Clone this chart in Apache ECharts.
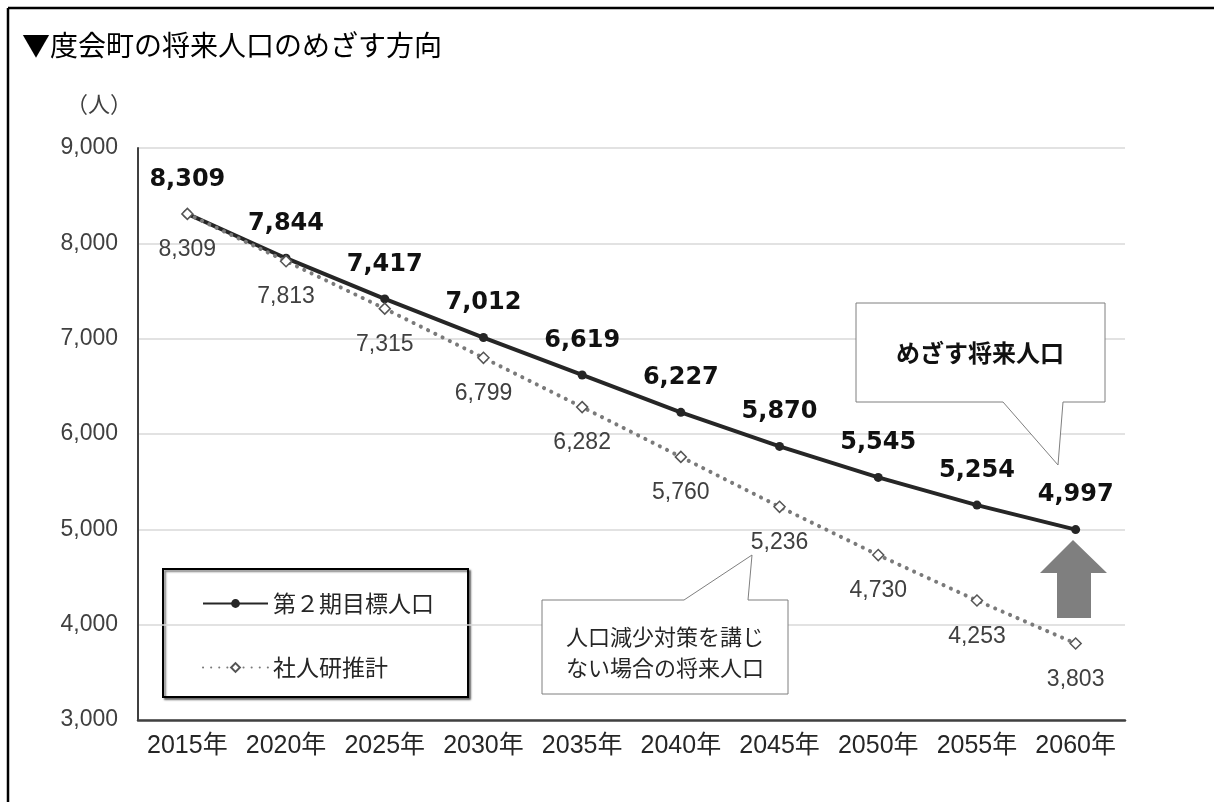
<!DOCTYPE html>
<html>
<head>
<meta charset="utf-8">
<script src="https://cdn.jsdelivr.net/npm/echarts@6/dist/echarts.min.js"></script>
<style>
  html, body { margin: 0; padding: 0; background: #fff; }
  #chart { width: 1214px; height: 802px; }
</style>
</head>
<body>
<div id="chart"></div>
<script>
// データ
var years = ['2015年', '2020年', '2025年', '2030年', '2035年', '2040年', '2045年', '2050年', '2055年', '2060年'];
var targetPop = [8309, 7844, 7417, 7012, 6619, 6227, 5870, 5545, 5254, 4997];   // 第２期目標人口
var ipssPop = [8309, 7813, 7315, 6799, 6282, 5760, 5236, 4730, 4253, 3803];     // 社人研推計
var yMin = 3000, yMax = 9000, yStep = 1000;

var jp = '"Noto Sans CJK JP", sans-serif';
var num = '"Liberation Sans", "Noto Sans CJK JP", sans-serif';
function comma(v) { return Number(v).toLocaleString('en-US'); }

var myChart = echarts.init(document.getElementById('chart'));

var option = {
  backgroundColor: '#fff',
  animation: false,
  grid: { left: 138, right: 89, top: 148, bottom: 82 },
  legend: {
    left: 202, top: 592,
    orient: 'vertical',
    padding: 0,
    itemWidth: 65, itemHeight: 11, itemGap: 41,
    textStyle: { fontFamily: jp, fontSize: 23, color: '#262626' },
    data: ['第２期目標人口', '社人研推計']
  },
  xAxis: {
    type: 'category',
    data: years,
    boundaryGap: true,
    axisLine: { lineStyle: { color: '#404040', width: 2.5 } },
    axisTick: { show: false },
    axisLabel: { interval: 0, fontFamily: num, fontSize: 25, color: '#262626', margin: 14 }
  },
  yAxis: {
    type: 'value',
    min: yMin, max: yMax, interval: yStep,
    axisLine: { show: true, lineStyle: { color: '#404040', width: 2 } },
    axisTick: { show: false },
    splitLine: { lineStyle: { color: '#d9d9d9', width: 1.5 } },
    axisLabel: { fontFamily: num, fontSize: 23, color: '#404040', margin: 20, formatter: comma }
  },
  series: [
    {
      name: '第２期目標人口',
      type: 'line',
      data: targetPop,
      z: 2,
      symbol: 'circle', symbolSize: 9,
      itemStyle: { color: '#262626' },
      lineStyle: { color: '#262626', width: 4 },
      label: {
        show: true, position: 'top', distance: 18,
        fontFamily: '"DejaVu Sans", sans-serif', fontWeight: 'bold', fontSize: 24, color: '#111',
        formatter: function (p) { return comma(p.value); }
      }
    },
    {
      name: '社人研推計',
      type: 'line',
      data: ipssPop,
      z: 3,
      symbol: 'diamond', symbolSize: 11,
      itemStyle: { color: '#fff', borderColor: '#555', borderWidth: 1.5 },
      lineStyle: { color: '#7a7a7a', width: 4, type: [0.1, 8], cap: 'round' },
      label: {
        show: true, position: 'bottom', distance: 18,
        fontFamily: num, fontSize: 23, color: '#404040',
        formatter: function (p) { return comma(p.value); }
      }
    }
  ],
  graphic: [
    // 外枠
    { type: 'line', shape: { x1: 8, y1: 8, x2: 1214, y2: 8 }, style: { stroke: '#000', lineWidth: 2.5 } },
    { type: 'line', shape: { x1: 8, y1: 8, x2: 8, y2: 802 }, style: { stroke: '#000', lineWidth: 2.5 } },
    // タイトル
    { type: 'text', left: 22, top: 31, style: { text: '▼度会町の将来人口のめざす方向', font: '28px ' + jp, fill: '#000' } },
    { type: 'text', left: 66, top: 93, style: { text: '（人）', font: '22px ' + jp, fill: '#404040' } },
    // 凡例の枠
    { type: 'rect', z: -1, shape: { x: 163, y: 569, width: 305, height: 128 },
      style: { fill: '#fff', stroke: '#000', lineWidth: 2, shadowColor: 'rgba(0,0,0,0.5)', shadowOffsetX: 2, shadowOffsetY: 2, shadowBlur: 2 } },
    // 吹き出し：めざす将来人口
    { type: 'polygon', z: 10,
      shape: { points: [[856, 303], [1105, 303], [1105, 402], [1063, 402], [1058, 465], [1003, 402], [856, 402]] },
      style: { fill: '#fff', stroke: '#7f7f7f', lineWidth: 1 } },
    { type: 'text', z: 11, x: 980, y: 353,
      style: { text: 'めざす将来人口', font: 'bold 24px ' + jp, fill: '#111', align: 'center', verticalAlign: 'middle' } },
    // 吹き出し：人口減少対策を講じない場合
    { type: 'polygon', z: 10,
      shape: { points: [[542, 600], [684, 600], [752, 555], [748, 600], [788, 600], [788, 694], [542, 694]] },
      style: { fill: '#fff', stroke: '#7f7f7f', lineWidth: 1 } },
    { type: 'text', z: 11, x: 665, y: 652,
      style: { text: '人口減少対策を講じ\nない場合の将来人口', font: '22px ' + jp, lineHeight: 31, fill: '#262626', align: 'center', verticalAlign: 'middle' } },
    // 上向き矢印
    { type: 'polygon', z: 10,
      shape: { points: [[1073, 540], [1107, 573], [1091, 573], [1091, 618], [1057, 618], [1057, 573], [1040, 573]] },
      style: { fill: '#7f7f7f' } }
  ]
};

myChart.setOption(option);
</script>
</body>
</html>
